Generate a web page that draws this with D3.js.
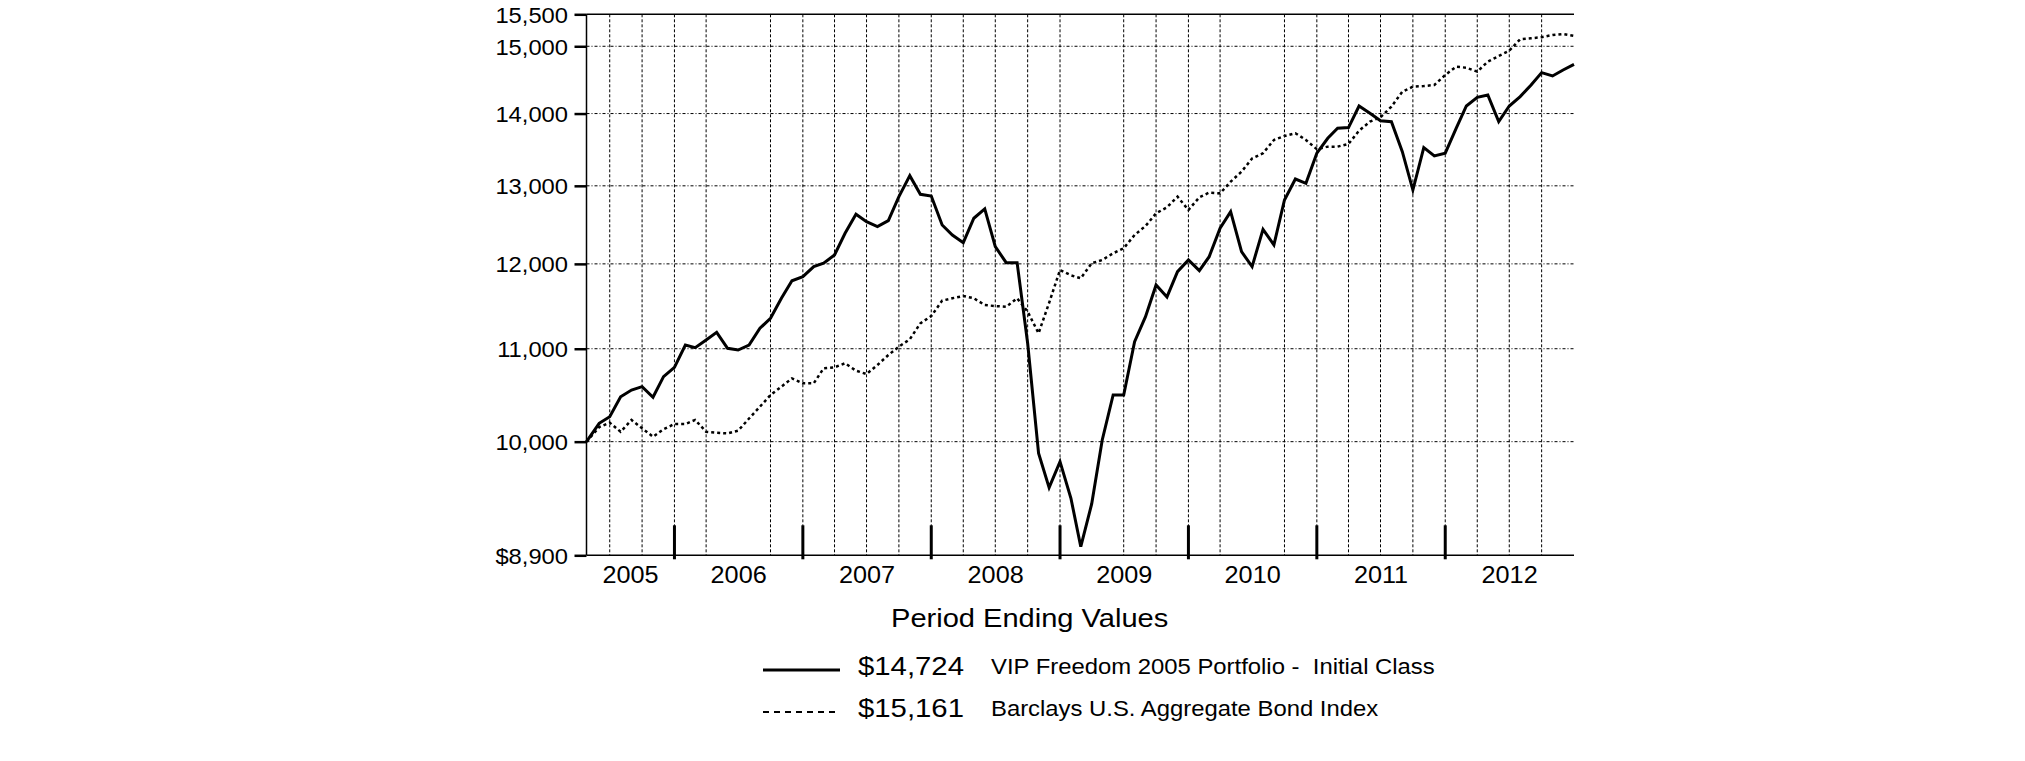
<!DOCTYPE html>
<html><head><meta charset="utf-8">
<script src="https://cdn.jsdelivr.net/npm/d3@7"></script>
<style>
body{margin:0;background:#fff}
svg{display:block}
text{font-family:"Liberation Sans",Arial,sans-serif;fill:#000;white-space:pre}
</style>
</head><body>
<svg id="c" width="2025" height="761"></svg>
<script>
// ---------------- data ----------------
const startDate = "2005-04-26";
const months = [
"2005-05","2005-06","2005-07","2005-08","2005-09","2005-10","2005-11","2005-12",
"2006-01","2006-02","2006-03","2006-04","2006-05","2006-06","2006-07","2006-08","2006-09","2006-10","2006-11","2006-12",
"2007-01","2007-02","2007-03","2007-04","2007-05","2007-06","2007-07","2007-08","2007-09","2007-10","2007-11","2007-12",
"2008-01","2008-02","2008-03","2008-04","2008-05","2008-06","2008-07","2008-08","2008-09","2008-10","2008-11","2008-12",
"2009-01","2009-02","2009-03","2009-04","2009-05","2009-06","2009-07","2009-08","2009-09","2009-10","2009-11","2009-12",
"2010-01","2010-02","2010-03","2010-04","2010-05","2010-06","2010-07","2010-08","2010-09","2010-10","2010-11","2010-12",
"2011-01","2011-02","2011-03","2011-04","2011-05","2011-06","2011-07","2011-08","2011-09","2011-10","2011-11","2011-12",
"2012-01","2012-02","2012-03","2012-04","2012-05","2012-06","2012-07","2012-08","2012-09","2012-10","2012-11","2012-12"];
const fundValues = [10000,
10190,10259,10471,10544,10580,10466,10689,10792,
11042,11012,11099,11187,11005,10985,11042,11233,11349,11584,11793,11843,
11966,12008,12110,12383,12627,12530,12467,12544,12856,13136,12887,12865,
12488,12361,12264,12575,12695,12214,12015,12015,11062,9882,9539,9797,
9436,8979,9381,10017,10490,10490,11080,11367,11743,11600,11905,12048,
11917,12089,12446,12660,12151,11966,12433,12235,12812,13091,13034,13442,
13650,13790,13800,14109,14004,13898,13884,13463,12944,13519,13404,13442,
13790,14109,14235,14269,13884,14109,14245,14416,14600,14550,14640,14724];
const indexValues = [10000,
10150,10197,10102,10225,10138,10051,10128,10183,
10183,10225,10102,10092,10085,10113,10240,10365,10490,10580,10671,10617,
10617,10781,10792,10837,10755,10718,10818,10929,11023,11107,11290,11375,
11556,11584,11611,11584,11504,11492,11483,11584,11426,11176,11530,11925,
11860,11824,12008,12048,12131,12193,12361,12475,12638,12717,12856,12682,
12848,12910,12900,13055,13190,13370,13442,13626,13682,13720,13626,13497,
13533,13533,13571,13756,13884,13947,14100,14317,14391,14401,14416,14565,
14689,14674,14615,14765,14851,14933,15109,15124,15140,15175,15190,15161];
const yTicks = [8900,10000,11000,12000,13000,14000,15000,15500];
const yTickLabels = ["$8,900","10,000","11,000","12,000","13,000","14,000","15,000","15,500"];
const yGridValues = [10000,11000,12000,13000,14000,15000];
const yearLabels = ["2005","2006","2007","2008","2009","2010","2011","2012"];
const yearTicks = ["2006-01-01","2007-01-01","2008-01-01","2009-01-01","2010-01-01","2011-01-01","2012-01-01"];
const gridDates = ["2005-07-01","2005-10-01","2006-01-01","2006-04-01","2006-10-01",
"2007-01-01","2007-04-01","2007-07-01","2007-10-01","2008-01-01","2008-04-01","2008-07-01","2008-10-01",
"2009-01-01","2009-07-01","2009-10-01","2010-01-01","2010-04-01","2010-10-01",
"2011-01-01","2011-04-01","2011-07-01","2011-10-01","2012-01-01","2012-04-01","2012-07-01","2012-10-01"];
const endDate = "2013-01-01";
const legendTitle = "Period Ending Values";
const seriesNames = ["VIP Freedom 2005 Portfolio -  Initial Class","Barclays U.S. Aggregate Bond Index"];
const endingLabels = ["$14,724","$15,161"];

// ---------------- drawing ----------------
const svg = d3.select("#c");
const pDay = d3.timeParse("%Y-%m-%d"), pMon = d3.timeParse("%Y-%m");
const dates = [pDay(startDate)].concat(months.map(m => d3.timeMonth.offset(pMon(m), 1)));
const L = 586.5, R = 1574, T = 14.3, B = 555.3;
const x = d3.scaleTime().domain([pDay(startDate), pDay(endDate)]).range([L, R]);
const y = d3.scaleLog().domain([8900, 15500]).range([B, T]);

function stretchedText(g, tx, ty, str, size, sx, anchor){
  return g.append("g").attr("transform", `translate(${tx},${ty}) scale(${sx},1)`)
    .append("text").attr("font-size", size).attr("text-anchor", anchor || "start").text(str);
}

// grid
const grid = svg.append("g");
grid.selectAll("line.h").data(yGridValues).enter().append("line")
  .attr("x1", L).attr("x2", R).attr("y1", d => y(d)).attr("y2", d => y(d))
  .attr("stroke", "#000").attr("stroke-width", 1).attr("stroke-dasharray", "3,2,1,2");
grid.selectAll("line.v").data(gridDates).enter().append("line")
  .attr("x1", d => x(pDay(d))).attr("x2", d => x(pDay(d))).attr("y1", T).attr("y2", B)
  .attr("stroke", "#000").attr("stroke-width", 1).attr("stroke-dasharray", "3,2");

// series
const line = d3.line().x((d, i) => x(dates[i])).y(d => y(d));
svg.append("path").datum(indexValues).attr("d", line).attr("fill", "none")
  .attr("stroke", "#000").attr("stroke-width", 2.5).attr("stroke-dasharray", "3,3");
svg.append("path").datum(fundValues).attr("d", line).attr("fill", "none")
  .attr("stroke", "#000").attr("stroke-width", 3).attr("stroke-linejoin", "miter");

// frame
svg.append("line").attr("x1", L).attr("x2", R).attr("y1", T).attr("y2", T).attr("stroke", "#000").attr("stroke-width", 1.5);
svg.append("line").attr("x1", L).attr("x2", R).attr("y1", B).attr("y2", B).attr("stroke", "#000").attr("stroke-width", 1.5);
svg.append("line").attr("x1", L).attr("x2", L).attr("y1", T).attr("y2", B).attr("stroke", "#000").attr("stroke-width", 1.5);

// y axis
const yAxis = svg.append("g").attr("transform", `translate(${L},0)`)
  .call(d3.axisLeft(y).tickValues(yTicks).tickFormat((d, i) => yTickLabels[i]).tickSize(12).tickPadding(6));
yAxis.select(".domain").remove();
yAxis.selectAll(".tick line").attr("stroke-width", 2.5);
const ySx = 1.08;
yAxis.selectAll(".tick text").attr("font-size", 22).attr("font-family", '"Liberation Sans",Arial,sans-serif')
  .attr("x", -18.5 / ySx).attr("transform", `scale(${ySx},1)`).attr("dy", "0.36em");

// year ticks
svg.append("g").selectAll("line").data(yearTicks).enter().append("line")
  .attr("x1", d => x(pDay(d))).attr("x2", d => x(pDay(d))).attr("y1", B - 30).attr("y2", B + 4)
  .attr("stroke", "#000").attr("stroke-width", 3);

// year labels
const bounds = [pDay(startDate)].concat(yearTicks.map(pDay), [pDay(endDate)]);
const yl = svg.append("g");
yearLabels.forEach((lab, i) => {
  const cx = (x(bounds[i]) + x(bounds[i + 1])) / 2;
  stretchedText(yl, cx, 582.5, lab, 24.5, 1.03, "middle");
});

// legend
const lg = svg.append("g");
stretchedText(lg, 891, 626.5, legendTitle, 25.5, 1.14, "start");
const rowY = [670, 712];
lg.append("line").attr("x1", 763).attr("x2", 840).attr("y1", rowY[0]).attr("y2", rowY[0]).attr("stroke", "#000").attr("stroke-width", 3);
lg.append("line").attr("x1", 763).attr("x2", 840).attr("y1", rowY[1]).attr("y2", rowY[1]).attr("stroke", "#000").attr("stroke-width", 2).attr("stroke-dasharray", "6,5");
endingLabels.forEach((lab, i) => stretchedText(lg, 858, rowY[i] + 5, lab, 25.5, 1.15, "start"));
seriesNames.forEach((lab, i) => stretchedText(lg, 991, rowY[i] + 4, lab, 21.5, 1.11, "start"));
</script>
</body></html>
